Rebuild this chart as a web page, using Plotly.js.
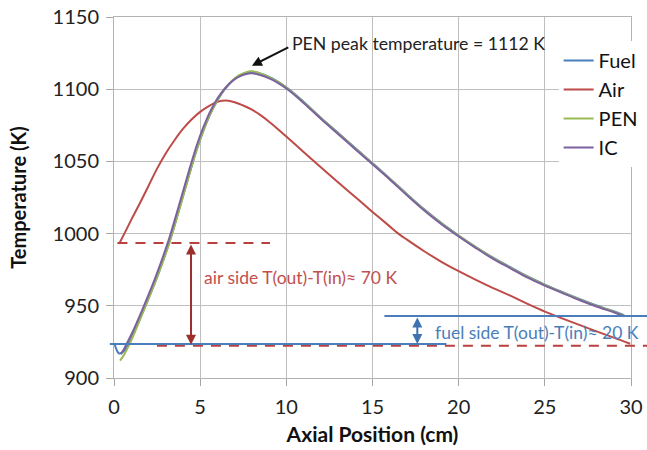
<!DOCTYPE html>
<html>
<head>
<meta charset="utf-8">
<script src="https://cdn.plot.ly/plotly-3.0.1.min.js"></script>
<style>html,body{margin:0;padding:0;background:#fff;}#chart{width:647px;height:450px;}</style>
</head>
<body>
<div id="chart"></div>
<script>
// Axial position (cm) and temperatures (K)
var fuelX = [0.05, 0.3, 0.6, 0.9, 1.2, 1.6, 2.0, 2.4, 2.8, 3.2, 3.6, 4.0, 4.4, 4.8, 5.2, 5.6, 6.0, 6.4, 6.8, 7.2, 7.6, 8.0,
             9, 10, 11, 12, 13, 14, 15, 16, 17, 18, 19, 20, 21, 22, 23, 24, 25, 26, 27, 28, 29, 29.6];
var fuelT = [923, 917, 919, 925, 932.8, 943.7, 955, 966.8, 979.6, 993.3, 1009.2, 1025.7, 1042.3, 1058.1, 1071.6, 1083.1, 1092.1, 1099.5, 1105, 1108.8, 1111, 1112,
             1108.5, 1101.3, 1091.3, 1080.3, 1069.8, 1059.3, 1048.8, 1038.2, 1027.3, 1016.8, 1007.3, 998.7, 990.7, 983.3, 976.7, 970.3, 964.7, 959.6, 954.7, 950.2, 946.2, 943.5];

var airX = [0.3, 0.6, 1.0, 1.5, 2.0, 2.5, 3.0, 3.5, 4.0, 4.5, 5.0, 5.5, 6.0, 6.5, 7.0, 7.5, 8.0, 8.5, 9.0, 9.5, 10,
            11, 12, 13, 14, 15, 16, 16.5, 17, 18, 19, 20, 21, 22, 23, 24, 25, 26, 27, 28, 29, 29.95];
var airT = [993, 1000, 1009.5, 1021, 1033, 1045, 1055.5, 1064.5, 1072.5, 1079, 1084.3, 1088.3, 1091.2, 1092.1, 1091, 1088.7, 1085.8, 1082, 1077.5, 1072.5, 1067.2,
            1056.5, 1046, 1035.6, 1025.3, 1015, 1005, 1000, 995.8, 987.8, 980.5, 974, 968, 962.3, 957, 951.3, 946, 941.3, 936.8, 932.3, 928, 923.7];

var penX = [0.35, 0.6, 0.9, 1.2, 1.6, 2.0, 2.4, 2.8, 3.2, 3.6, 4.0, 4.4, 4.8, 5.2, 5.6, 6.0, 6.4, 6.8, 7.2, 7.6, 8.0,
            9, 10, 11, 12, 13, 14, 15, 16, 17, 18, 19, 20, 21, 22, 23, 24, 25, 26, 27, 28, 29, 29.6];
var penT = [912, 916.5, 923.5, 931.5, 943, 954.8, 966.7, 979.5, 993.2, 1009, 1025.5, 1042.2, 1058.2, 1071.8, 1083.3, 1092.3, 1099.8, 1105.3, 1109.2, 1111.5, 1112.4,
            1108.3, 1101, 1091, 1080, 1069.5, 1059, 1048.5, 1037.9, 1027, 1016.5, 1007, 998.4, 990.4, 983, 976.4, 970, 964.4, 959.3, 954.4, 949.9, 945.9, 943.2];

var icX = [0.4, 0.6, 0.9, 1.2, 1.6, 2.0, 2.4, 2.8, 3.2, 3.6, 4.0, 4.4, 4.8, 5.2, 5.6, 6.0, 6.4, 6.8, 7.2, 7.6, 8.0,
           9, 10, 11, 12, 13, 14, 15, 16, 17, 18, 19, 20, 21, 22, 23, 24, 25, 26, 27, 28, 29, 29.6];
var icT = [916.5, 920.5, 927.5, 935, 946, 957.5, 969.5, 982.5, 996.5, 1012.5, 1029, 1045.5, 1061, 1074, 1085, 1093.5, 1100, 1105, 1108.3, 1110.3, 1111,
           1107.5, 1100.5, 1090.5, 1079.5, 1069, 1058.5, 1048, 1037.5, 1026.5, 1016, 1006.5, 998, 990, 982.5, 976, 969.5, 964, 959, 954, 949.5, 945.5, 942.8];

var seriesNames = ["Fuel", "Air", "PEN", "IC"];
var seriesColors = ["#4A7EBB", "#BE4B48", "#98B954", "#7D60A0"];

// annotation values
var airInT = 923, airOutT = 993.5;
var fuelInT = 923.5, fuelOutT = 943;
var penPeakT = 1112;
var airArrowX = 4.47, fuelArrowX = 17.6;

var FONT = "Lato, 'Open Sans', sans-serif";
var xs = [fuelX, airX, penX, icX], ys = [fuelT, airT, penT, icT];
var traces = seriesNames.map(function (n, i) {
  return {
    x: xs[i], y: ys[i], name: n, type: "scatter", mode: "lines", legendgroup: n,
    line: {color: seriesColors[i], width: 2, shape: "spline", smoothing: 1},
    hoverinfo: "skip"
  };
});

var layout = {
  width: 647, height: 450,
  margin: {l: 114, r: 16, t: 17, b: 72, autoexpand: false},
  paper_bgcolor: "#fff", plot_bgcolor: "#fff",
  font: {family: FONT, color: "#222"},
  showlegend: true,
  legend: {
    x: 0.86, y: 0.9335, xanchor: "left", yanchor: "top",
    bgcolor: "#fff", borderwidth: 0,
    font: {family: FONT, size: 20, color: "#111"},
    itemwidth: 30, tracegroupgap: 1, traceorder: "normal"
  },
  xaxis: {
    range: [0, 30], dtick: 5, tick0: 0,
    showgrid: true, gridcolor: "#BFBFBF", gridwidth: 1,
    zeroline: false, showline: true, mirror: true, linecolor: "#B3B3B3", linewidth: 1,
    ticks: "outside", ticklen: 7, tickcolor: "#A6A6A6", ticklabelstandoff: 4,
    tickfont: {family: FONT, size: 20, color: "#222"},
    title: {text: "<b>Axial Position (cm)</b>", font: {family: FONT, size: 21, color: "#111"}, standoff: 10}
  },
  yaxis: {
    range: [900, 1150], dtick: 50, tick0: 900,
    showgrid: true, gridcolor: "#BFBFBF", gridwidth: 1,
    zeroline: false, showline: true, mirror: true, linecolor: "#B3B3B3", linewidth: 1,
    ticks: "outside", ticklen: 7, tickcolor: "#A6A6A6", ticklabelstandoff: 3,
    tickfont: {family: FONT, size: 20, color: "#222"},
    title: {text: "<b>Temperature (K)</b>", font: {family: FONT, size: 20, color: "#111"}, standoff: 20}
  },
  shapes: [
    {type: "line", xref: "x", yref: "y", x0: 0.2, x1: 9.05, y0: airOutT, y1: airOutT,
     line: {color: "#B8413F", width: 2, dash: "10px,8px"}},
    {type: "line", xref: "paper", yref: "y", x0: 0.083, x1: 1.04, y0: airInT - 0.6, y1: airInT - 0.6,
     line: {color: "#B8413F", width: 2, dash: "10px,8px"}},
    {type: "line", xref: "paper", yref: "y", x0: -0.008, x1: 0.643, y0: fuelInT, y1: fuelInT,
     line: {color: "#4A7EBB", width: 2}},
    {type: "line", xref: "paper", yref: "y", x0: 0.523, x1: 1.04, y0: fuelOutT, y1: fuelOutT,
     line: {color: "#4A7EBB", width: 2}}
  ],
  annotations: [
    {x: airArrowX, y: airInT, ax: airArrowX, ay: airOutT, xref: "x", yref: "y", axref: "x", ayref: "y",
     text: "", showarrow: true, arrowside: "end+start", arrowhead: 2, arrowsize: 1, arrowwidth: 2,
     arrowcolor: "#9C2E2E", standoff: 0, startstandoff: 0},
    {x: 5.1, y: 969.8, xref: "x", yref: "y", xanchor: "left", yanchor: "middle", showarrow: false,
     text: "air side T(out)-T(in)≈ 70 K", font: {family: FONT, size: 17.5, color: "#C0504D"}},
    {x: fuelArrowX, y: fuelInT, ax: fuelArrowX, ay: fuelOutT, xref: "x", yref: "y", axref: "x", ayref: "y",
     text: "", showarrow: true, arrowside: "end+start", arrowhead: 2, arrowsize: 1, arrowwidth: 2,
     arrowcolor: "#3F72B0", standoff: 0, startstandoff: 0},
    {x: 18.5, y: 931.6, xref: "x", yref: "y", xanchor: "left", yanchor: "middle", showarrow: false,
     text: "fuel side T(out)-T(in)≈ 20 K", font: {family: FONT, size: 17.5, color: "#4A7EBB"}},
    {x: 8.0, y: 1116.3, ax: 10.2, ay: 1129.5, xref: "x", yref: "y", axref: "x", ayref: "y",
     text: "", showarrow: true, arrowhead: 2, arrowsize: 1, arrowwidth: 2, arrowcolor: "#111", standoff: 0},
    {x: 10.2, y: 1131.6, xref: "x", yref: "y", xanchor: "left", yanchor: "middle", showarrow: false,
     text: "PEN peak temperature = " + penPeakT + " K", font: {family: FONT, size: 17.7, color: "#222"}}
  ]
};

Plotly.newPlot("chart", traces, layout, {staticPlot: true, displayModeBar: false});
</script>
</body>
</html>
